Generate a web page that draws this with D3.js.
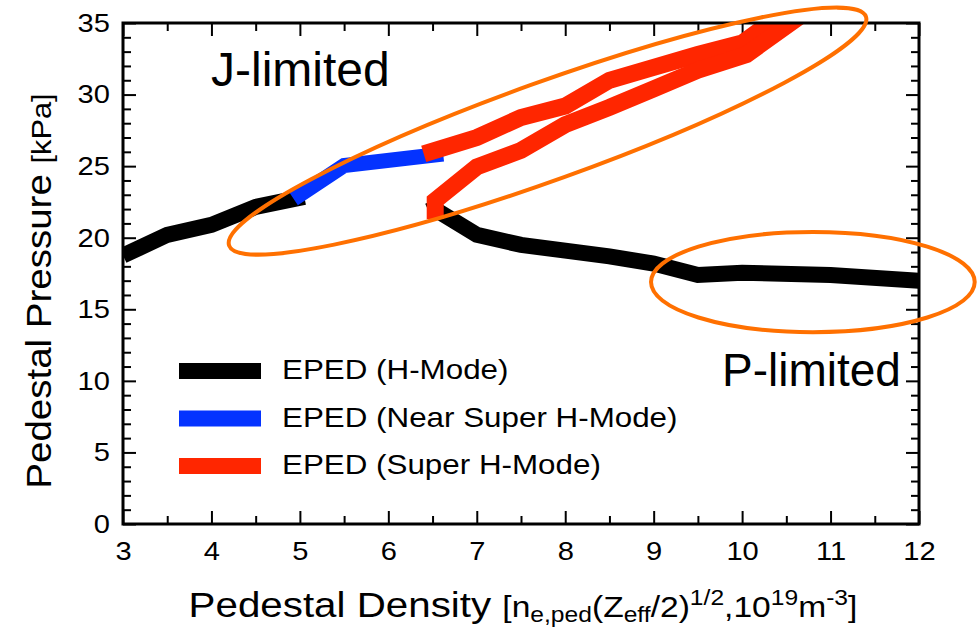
<!DOCTYPE html>
<html>
<head>
<meta charset="utf-8">
<script src="https://cdn.jsdelivr.net/npm/d3@7"></script>
<style>
  body { margin: 0; background: #fff; }
  text { font-family: "Liberation Sans", Arial, Helvetica, sans-serif; fill: #000; }
</style>
</head>
<body>
<svg id="chart" width="979" height="630"></svg>
<script>
    // EPED curves: density (x) and pressure (y)
    const hLowX  = [3, 3.5, 4, 4.5, 5.05];
    const hLowY  = [18.75, 20.2, 20.9, 22.15, 22.85];
    const hHighX = [6.5, 6.55, 7, 7.5, 8, 8.5, 9, 9.5, 10, 11, 12];
    const hHighY = [22.6, 21.9, 20.2, 19.5, 19.1, 18.7, 18.2, 17.4, 17.55, 17.4, 17.0];

    const nearX = [4.93, 5.5, 6.62];
    const nearY = [22.7, 25.05, 25.85];

    const superUpX = [6.4, 7, 7.5, 8, 8.5, 9, 9.5, 10, 10.45];
    const superUpY = [25.85, 27.0, 28.4, 29.2, 31.0, 31.9, 32.8, 33.6, 35.6];
    const superLowX = [6.53, 6.53, 7, 7.5, 8, 8.5, 9, 9.5, 10.05, 10.75];
    const superLowY = [21.3, 22.6, 24.95, 26.1, 27.9, 29.1, 30.4, 31.7, 32.8, 35.9];

    const xMajor = [3, 4, 5, 6, 7, 8, 9, 10, 11, 12];
    const xMinor = [3.5, 4.5, 5.5, 6.5, 7.5, 8.5, 9.5, 10.5, 11.5];
    const yMajor = [0, 5, 10, 15, 20, 25, 30, 35];
    const yMinor = d3.range(0, 36).filter(v => v % 5 !== 0);

    const legendNames = ["EPED (H-Mode)", "EPED (Near Super H-Mode)", "EPED (Super H-Mode)"];
    const legendColors = ["#000000", "#0433ff", "#ff2600"];

    // orange rings (data coords): tilted one given by centre + end of long axis
    const ringJ = { cx: 7.8, cy: 27.45, tipX: 11.4, tipY: 35.45 };
    const ringP = { cx: 10.8, cy: 16.9, rx: 1.83, ry: 3.5 };

    const svg = d3.select("#chart");
    const plotL = 123, plotR = 919, plotT = 23, plotB = 524;

    const x = d3.scaleLinear().domain([3, 12]).range([plotL, plotR]);
    const y = d3.scaleLinear().domain([0, 35]).range([plotB, plotT]);

    svg.append("clipPath").attr("id", "plot-clip")
      .append("rect")
      .attr("x", plotL).attr("y", plotT)
      .attr("width", plotR - plotL).attr("height", plotB - plotT);

    // ticks, all pointing inward
    function tickAxis(axis, tx, ty, size) {
        const g = svg.append("g")
          .attr("transform", `translate(${tx},${ty})`)
          .call(axis.tickSize(-size));
        g.select(".domain").remove();
        g.selectAll("line").attr("stroke", "#000").attr("stroke-width", 2);
        return g;
    }

    const gx = tickAxis(d3.axisBottom(x).tickValues(xMajor).tickPadding(17.5), 0, plotB, 13);
    tickAxis(d3.axisBottom(x).tickValues(xMinor).tickFormat(""), 0, plotB, 8);
    tickAxis(d3.axisTop(x).tickValues(xMajor).tickFormat(""), 0, plotT, 13);
    tickAxis(d3.axisTop(x).tickValues(xMinor).tickFormat(""), 0, plotT, 8);

    const gy = tickAxis(d3.axisLeft(y).tickValues(yMajor).tickPadding(11.6), plotL, 0, 13);
    tickAxis(d3.axisLeft(y).tickValues(yMinor).tickFormat(""), plotL, 0, 8);
    tickAxis(d3.axisRight(y).tickValues(yMajor).tickFormat(""), plotR, 0, 13);
    tickAxis(d3.axisRight(y).tickValues(yMinor).tickFormat(""), plotR, 0, 8);

    [gx, gy].forEach(g => {
        g.attr("font-size", 26).attr("font-family", null);
        g.selectAll("text")
          .attr("fill", "#000")
          .attr("transform", "scale(1.12,1)");
    });

    // curves
    const line = d3.line().x(d => x(d[0])).y(d => y(d[1]));
    const curves = svg.append("g").attr("clip-path", "url(#plot-clip)");

    function drawCurve(xs, ys, color, width) {
        curves.append("path")
          .datum(d3.zip(xs, ys))
          .attr("d", line)
          .attr("fill", "none")
          .attr("stroke", color)
          .attr("stroke-width", width)
          .attr("stroke-linejoin", "miter")
          .attr("stroke-linecap", "butt");
    }

    drawCurve(hLowX, hLowY, legendColors[0], 16);
    drawCurve(hHighX, hHighY, legendColors[0], 16);
    drawCurve(nearX, nearY, legendColors[1], 15);
    drawCurve(superUpX, superUpY, legendColors[2], 17);
    drawCurve(superLowX, superLowY, legendColors[2], 17);

    // frame
    svg.append("rect")
      .attr("x", plotL).attr("y", plotT)
      .attr("width", plotR - plotL).attr("height", plotB - plotT)
      .attr("fill", "none").attr("stroke", "#000").attr("stroke-width", 3);

    // orange rings
    const jcx = x(ringJ.cx), jcy = y(ringJ.cy);
    const jdx = x(ringJ.tipX) - jcx, jdy = y(ringJ.tipY) - jcy;
    svg.append("ellipse")
      .attr("cx", 0).attr("cy", 0)
      .attr("rx", Math.hypot(jdx, jdy)).attr("ry", 49)
      .attr("transform", `translate(${jcx},${jcy}) rotate(${Math.atan2(jdy, jdx) * 180 / Math.PI})`)
      .attr("fill", "none").attr("stroke", "#ff7000").attr("stroke-width", 4);

    svg.append("ellipse")
      .attr("cx", x(ringP.cx)).attr("cy", y(ringP.cy))
      .attr("rx", x(ringP.cx + ringP.rx) - x(ringP.cx))
      .attr("ry", y(0) - y(ringP.ry))
      .attr("fill", "none").attr("stroke", "#ff7000").attr("stroke-width", 4);

    // region labels
    svg.append("text").attr("x", 211).attr("y", 86).attr("font-size", 48).text("J-limited");
    svg.append("text").attr("x", 722).attr("y", 386).attr("font-size", 46).text("P-limited");

    // legend
    legendNames.forEach((name, i) => {
        const cy = 371 + i * 47.5;
        svg.append("rect")
          .attr("x", 179).attr("y", cy - 8)
          .attr("width", 82).attr("height", 16)
          .attr("fill", legendColors[i]);
        svg.append("g")
          .attr("transform", `translate(282,${cy + 8}) scale(1.12,1)`)
          .append("text").attr("font-size", 28).text(name);
    });

    // axis titles with sub/superscripts: [text, size, shift]
    function richText(g, parts) {
        const t = g.append("text").attr("text-anchor", "middle");
        let shift = 0;
        parts.forEach(([s, size, off]) => {
            t.append("tspan")
              .attr("font-size", size)
              .attr("dy", off - shift)
              .text(s);
            shift = off;
        });
    }

    richText(svg.append("g").attr("transform", "translate(523,617) scale(1.12,1)"), [
        ["Pedestal Density ", 36, 0],
        ["[n", 30, 0], ["e,ped", 22, 5], ["(Z", 30, 0], ["eff", 22, 5],
        ["/2)", 30, 0], ["1/2", 22, -12], [",10", 30, 0], ["19", 22, -12],
        ["m", 30, 0], ["-3", 22, -12], ["]", 30, 0]
    ]);

    richText(svg.append("g").attr("transform", "translate(51,291) rotate(-90) scale(1.1,1)"), [
        ["Pedestal Pressure ", 35, 0], ["[kPa]", 28, 0]
    ]);
</script>
</body>
</html>
